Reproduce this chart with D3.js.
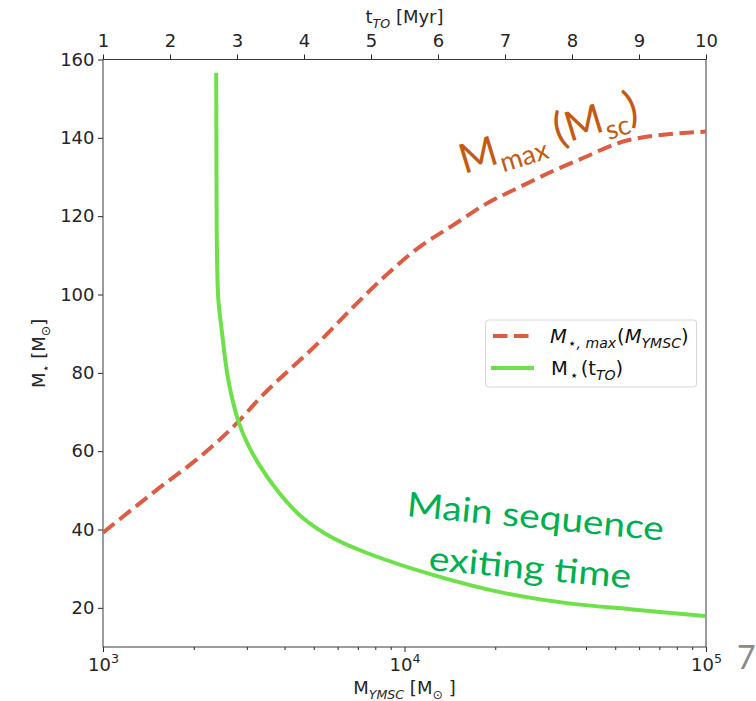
<!DOCTYPE html>
<html>
<head>
<meta charset="utf-8">
<script src="https://cdn.jsdelivr.net/npm/d3@7"></script>
<style>
  html, body { margin: 0; padding: 0; background: #fff; }
  svg { display: block; }
</style>
</head>
<body>
<svg id="chart" width="756" height="701"></svg>
<script>
// Most massive star allowed for a young massive star cluster of mass M_YMSC
const clusterMass    = [1000, 1500, 2200, 2800, 3300, 5200, 6800, 8700, 11200, 14500, 18800, 24200, 31200, 38200, 54600, 100000];
const maxStellarMass = [39.2, 50.0, 59.9, 67.4, 73.4, 87.8, 97.0, 105.0, 112.1, 117.7, 123.3, 127.5, 131.6, 134.5, 139.3, 141.6];

// Stellar mass leaving the main sequence at turn-off time t_TO (Myr)
const turnoffTime = [2.690, 2.694, 2.700, 2.722, 2.772, 2.870, 3.019, 3.152, 3.313, 3.613, 3.966, 4.433, 4.940, 5.925, 6.925, 7.925, 8.910, 9.985];
const turnoffMass = [156.6, 130.0, 112.0, 98.6, 90.9, 78.2, 67.7, 62.1, 57.0, 49.7, 43.2, 37.8, 34.0, 28.4, 24.0, 21.2, 19.6, 17.9];

// Tick labels
const massTicks = [20, 40, 60, 80, 100, 120, 140, 160];
const timeTicks = [1, 2, 3, 4, 5, 6, 7, 8, 9, 10];
const clusterDecades = [1e3, 1e4, 1e5];
const clusterMinor = [2e3, 3e3, 4e3, 5e3, 6e3, 7e3, 8e3, 9e3, 2e4, 3e4, 4e4, 5e4, 6e4, 7e4, 8e4, 9e4];

const box = { left: 103, right: 706, top: 59.5, bottom: 647 };
const FONT = "'DejaVu Sans', sans-serif";
const SLIDE_FONT = "Lato, 'Open Sans', sans-serif";
const INK = "#262626";
const RED = "#de5b44";
const GREEN = "#6ee04a";

const svg = d3.select("#chart");

const x = d3.scaleLog().domain([1e3, 1e5]).range([box.left, box.right]);
const xt = d3.scaleLinear().domain([1, 10]).range([box.left, box.right]);
const y = d3.scaleLinear().domain([10, 160]).range([box.bottom, box.top]);

// Append text built from pieces; sub > 0 lowers, sub < 0 raises the piece
function richText(sel, parts, size) {
  let shift = 0;
  parts.forEach(p => {
    const off = (p.sub || 0) * size;
    const ts = sel.append("tspan")
      .text(p.t)
      .attr("dy", off - shift)
      .attr("font-size", size * (p.scale || 1));
    if (p.italic) ts.attr("font-style", "italic");
    if (p.dx) ts.attr("dx", p.dx);
    shift = off;
  });
  return sel;
}

function styleAxis(g) {
  g.select(".domain").remove();
  g.selectAll(".tick line").attr("stroke", INK).attr("stroke-width", 1);
  g.selectAll(".tick text")
    .attr("font-family", FONT)
    .attr("font-size", 18)
    .attr("fill", INK);
}

// Left axis
svg.append("g")
  .attr("transform", `translate(${box.left},0)`)
  .call(d3.axisLeft(y).tickValues(massTicks).tickSize(5).tickPadding(3.5))
  .call(styleAxis);

// Top axis: turn-off time
svg.append("g")
  .attr("transform", `translate(0,${box.top})`)
  .call(d3.axisTop(xt).tickValues(timeTicks).tickFormat(d3.format("d")).tickSize(5).tickPadding(8))
  .call(styleAxis);

// Bottom axis: cluster mass (log), decade labels as powers of ten
const bottom = svg.append("g")
  .attr("transform", `translate(0,${box.bottom})`)
  .call(d3.axisBottom(x).tickValues(clusterDecades).tickFormat("").tickSize(5))
  .call(styleAxis);
bottom.selectAll(".tick text").remove();
bottom.selectAll(".tick").each(function(d) {
  const t = d3.select(this).append("text")
    .attr("y", 24)
    .attr("text-anchor", "middle")
    .attr("font-family", FONT)
    .attr("fill", INK);
  richText(t, [{ t: "10" }, { t: String(Math.round(Math.log10(d))), sub: -0.42, scale: 0.7 }], 18);
});
svg.append("g")
  .attr("transform", `translate(0,${box.bottom})`)
  .call(d3.axisBottom(x).tickValues(clusterMinor).tickFormat("").tickSize(3))
  .call(styleAxis);

// Frame
svg.append("rect")
  .attr("x", box.left).attr("y", box.top)
  .attr("width", box.right - box.left).attr("height", box.bottom - box.top)
  .attr("fill", "none").attr("stroke", "#3a3a3a").attr("stroke-width", 1);

// Axis titles
const topTitle = svg.append("text")
  .attr("x", (box.left + box.right) / 2).attr("y", 23)
  .attr("text-anchor", "middle").attr("font-family", FONT).attr("fill", INK);
richText(topTitle, [{ t: "t" }, { t: "TO", sub: 0.25, scale: 0.7, italic: true }, { t: " [Myr]" }], 18);

const bottomTitle = svg.append("text")
  .attr("x", (box.left + box.right) / 2).attr("y", 694)
  .attr("text-anchor", "middle").attr("font-family", FONT).attr("fill", INK);
richText(bottomTitle, [{ t: "M" }, { t: "YMSC", sub: 0.25, scale: 0.7, italic: true }, { t: " [M" }, { t: "⊙", sub: 0.25, scale: 0.7 }, { t: " ]" }], 18);

const leftTitle = svg.append("text")
  .attr("transform", `translate(45,${(box.top + box.bottom) / 2}) rotate(-90)`)
  .attr("text-anchor", "middle").attr("font-family", FONT).attr("fill", INK);
richText(leftTitle, [{ t: "M" }, { t: "⋆", sub: 0.25, scale: 0.7 }, { t: " [M" }, { t: "⊙", sub: 0.25, scale: 0.7 }, { t: "]" }], 18);

// Curves
svg.append("clipPath").attr("id", "plot-clip")
  .append("rect")
  .attr("x", box.left).attr("y", box.top)
  .attr("width", box.right - box.left).attr("height", box.bottom - box.top);

const redLine = d3.line()
  .x((d, i) => x(clusterMass[i]))
  .y(d => y(d))
  .curve(d3.curveMonotoneX);

const greenLine = d3.line()
  .x((d, i) => xt(turnoffTime[i]))
  .y(d => y(d))
  .curve(d3.curveCatmullRom.alpha(0.5));

const curves = svg.append("g").attr("clip-path", "url(#plot-clip)");
curves.append("path")
  .attr("d", redLine(maxStellarMass))
  .attr("fill", "none").attr("stroke", RED).attr("stroke-width", 4)
  .attr("stroke-dasharray", "14.5,6.5");
curves.append("path")
  .attr("d", greenLine(turnoffMass))
  .attr("fill", "none").attr("stroke", GREEN).attr("stroke-width", 4);

// Legend
const legend = svg.append("g");
legend.append("rect")
  .attr("x", 485.5).attr("y", 320).attr("width", 211).attr("height", 67).attr("rx", 3)
  .attr("fill", "#fff").attr("fill-opacity", 0.85).attr("stroke", "#d6d6d6");
legend.append("line")
  .attr("x1", 493).attr("x2", 531).attr("y1", 336).attr("y2", 336)
  .attr("stroke", RED).attr("stroke-width", 4).attr("stroke-dasharray", "14.5,6.5");
legend.append("line")
  .attr("x1", 491).attr("x2", 534).attr("y1", 368).attr("y2", 368)
  .attr("stroke", GREEN).attr("stroke-width", 4);
const lab1 = legend.append("text").attr("x", 550).attr("y", 343)
  .attr("font-family", FONT).attr("fill", "#111");
richText(lab1, [
  { t: "M", italic: true }, { t: "⋆, max", sub: 0.25, scale: 0.72, italic: true, dx: 1 },
  { t: "(", dx: 1 }, { t: "M", italic: true }, { t: "YMSC", sub: 0.25, scale: 0.72, italic: true }, { t: ")" }
], 19.5);
const lab2 = legend.append("text").attr("x", 551).attr("y", 375)
  .attr("font-family", FONT).attr("fill", "#111");
richText(lab2, [
  { t: "M" }, { t: "⋆", sub: 0.25, scale: 0.72, dx: 2 }, { t: "(t", dx: 2 },
  { t: "TO", sub: 0.25, scale: 0.72, italic: true }, { t: ")" }
], 19.5);

// Annotations
const mmax = svg.append("text")
  .attr("transform", "translate(464,174) rotate(-17)")
  .attr("font-family", SLIDE_FONT).attr("fill", "#c55a11");
richText(mmax, [
  { t: "M" }, { t: "max", sub: 0.24, scale: 0.66 }, { t: " (", scale: 1.08 },
  { t: "M" }, { t: "sc", sub: 0.24, scale: 0.66 }, { t: ")", scale: 1.08 }
], 41);

svg.append("text")
  .attr("transform", "translate(406,516) rotate(5.5)")
  .attr("font-family", SLIDE_FONT).attr("font-size", 34).attr("fill", "#00b050")
  .attr("textLength", 258).attr("lengthAdjust", "spacingAndGlyphs")
  .text("Main sequence");
svg.append("text")
  .attr("transform", "translate(428,570) rotate(5.2)")
  .attr("font-family", SLIDE_FONT).attr("font-size", 34).attr("fill", "#00b050")
  .attr("textLength", 203).attr("lengthAdjust", "spacingAndGlyphs")
  .text("exiting time");

// Slide page number
svg.append("text")
  .attr("x", 737).attr("y", 669)
  .attr("font-family", SLIDE_FONT).attr("font-size", 32).attr("fill", "#8a8a8a")
  .text("7");
</script>
</body>
</html>
